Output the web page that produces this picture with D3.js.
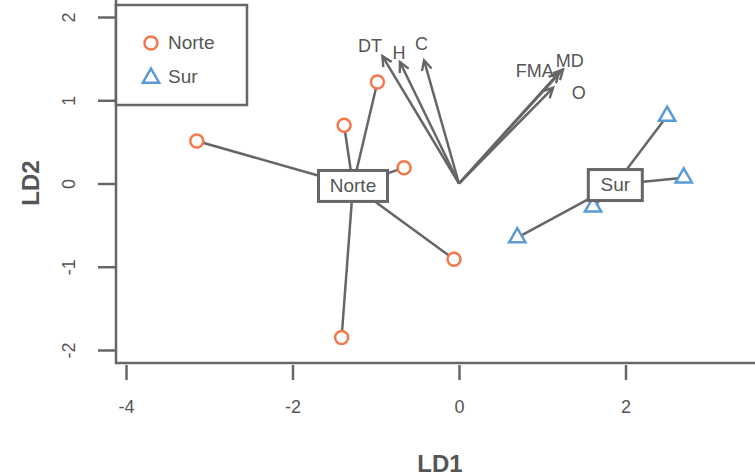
<!DOCTYPE html>
<html><head><meta charset="utf-8">
<script src="https://cdn.jsdelivr.net/npm/d3@7"></script>
<style>body{margin:0;background:#fff}svg{display:block}text{font-family:"Liberation Sans",Arial,sans-serif}</style>
</head><body><svg id="c" width="755" height="476"></svg>
<script>
// Data
const norteX = [-3.15, -0.98, -1.38, -0.66, -0.06, -1.41];
const norteY = [0.51, 1.22, 0.70, 0.19, -0.91, -1.85];
const surX = [2.50, 2.70, 1.61, 0.70];
const surY = [0.81, 0.07, -0.28, -0.65];
const groups = ["Norte", "Sur"];
const varNames = ["DT", "H", "C", "FMA", "MD", "O"];
const varX = [-0.92, -0.71, -0.42, 1.20, 1.25, 1.13];
const varY = [1.53, 1.46, 1.48, 1.33, 1.37, 1.15];
const varLabelX = [-1.07, -0.72, -0.45, 0.91, 1.33, 1.44];
const varLabelY = [1.66, 1.57, 1.68, 1.35, 1.48, 1.09];
const xTicks = [-4, -2, 0, 2];
const yTicks = [-2, -1, 0, 1, 2];

const grey = "#666666", txt = "#555555";
const orange = "#f4784d", blue = "#5b9bd5";

const svg = d3.select("#c");
const x = d3.scaleLinear().domain([-4, 0]).range([126, 459]);
const y = d3.scaleLinear().domain([-2, 2]).range([350, 17]);
const left = 116, bottom = 363;
const fmt = d => String(d);

// axes lines (plot frame cut by window)
svg.append("line").attr("x1", left).attr("x2", left).attr("y1", 0).attr("y2", bottom + 1)
  .attr("stroke", grey).attr("stroke-width", 2.5);
svg.append("line").attr("x1", left - 1).attr("x2", 755).attr("y1", bottom).attr("y2", bottom)
  .attr("stroke", grey).attr("stroke-width", 2.5);

// x axis ticks
const xa = svg.append("g").attr("transform", `translate(0,${bottom + 2})`)
  .call(d3.axisBottom(x).tickValues(xTicks).tickSize(15).tickPadding(20).tickFormat(fmt));
xa.attr("font-size", null).attr("font-family", null);
xa.select(".domain").remove();
xa.selectAll("line").attr("stroke", grey).attr("stroke-width", 2.5);
xa.selectAll("text").attr("fill", txt).attr("font-size", 18).style("font-size", "18px");

// y axis ticks
const ya = svg.append("g").attr("transform", `translate(${left - 1},0)`)
  .call(d3.axisLeft(y).tickValues(yTicks).tickSize(17).tickFormat(fmt));
ya.attr("font-size", null).attr("font-family", null);
ya.select(".domain").remove();
ya.selectAll("line").attr("stroke", grey).attr("stroke-width", 2.5);
ya.selectAll("text").attr("fill", txt).attr("font-size", 18).style("font-size", "18px")
  .attr("x", 0).attr("dy", null).attr("text-anchor", "middle")
  .attr("transform", "translate(-46,0) rotate(-90)").attr("y", 6);

// axis titles
svg.append("text").attr("x", 440).attr("y", 472).attr("text-anchor", "middle")
  .attr("fill", txt).style("font-size", "24px").style("font-weight", "bold").text("LD1");
svg.append("text").attr("transform", "translate(39,183) rotate(-90)").attr("text-anchor", "middle")
  .attr("fill", txt).style("font-size", "24px").style("font-weight", "bold").text("LD2");

// centroids
const norteC = [d3.mean(norteX), d3.mean(norteY)];
const surC = [d3.mean(surX), d3.mean(surY)];

const gSeg = svg.append("g");
norteX.forEach((v, i) => gSeg.append("line")
  .attr("x1", x(norteC[0])).attr("y1", y(norteC[1])).attr("x2", x(v)).attr("y2", y(norteY[i]))
  .attr("stroke", grey).attr("stroke-width", 2.5));
surX.forEach((v, i) => gSeg.append("line")
  .attr("x1", x(surC[0])).attr("y1", y(surC[1])).attr("x2", x(v)).attr("y2", y(surY[i]))
  .attr("stroke", grey).attr("stroke-width", 2.5));

// arrows
const defs = svg.append("defs");
defs.append("marker").attr("id", "ah").attr("viewBox", "0 0 12 12").attr("refX", 10).attr("refY", 6)
  .attr("markerWidth", 12).attr("markerHeight", 12).attr("markerUnits", "userSpaceOnUse").attr("orient", "auto")
  .append("path").attr("d", "M0,1 L10,6 L0,11").attr("fill", "none").attr("stroke", grey).attr("stroke-width", 2.4);
varX.forEach((v, i) => {
  svg.append("line").attr("x1", x(0)).attr("y1", y(0)).attr("x2", x(v)).attr("y2", y(varY[i]))
    .attr("stroke", grey).attr("stroke-width", 2.5).attr("marker-end", "url(#ah)");
});
varNames.forEach((n, i) => {
  svg.append("text").attr("x", x(varLabelX[i])).attr("y", y(varLabelY[i])).attr("dy", "0.35em")
    .attr("text-anchor", "middle").attr("fill", txt).style("font-size", "18px").text(n);
});

// points
const triPath = d3.symbol().type(d3.symbolTriangle).size(115);
norteX.forEach((v, i) => svg.append("circle").attr("cx", x(v)).attr("cy", y(norteY[i])).attr("r", 6.5)
  .attr("fill", "#fff").attr("stroke", orange).attr("stroke-width", 2.5));
surX.forEach((v, i) => svg.append("path").attr("d", triPath())
  .attr("transform", `translate(${x(v)},${y(surY[i])})`)
  .attr("fill", "#fff").attr("stroke", blue).attr("stroke-width", 2.5));

// centroid labels
function label(c, name, w) {
  const cx = x(c[0]), cy = y(c[1]);
  svg.append("rect").attr("x", cx - w / 2).attr("y", cy - 15).attr("width", w).attr("height", 31)
    .attr("fill", "#fff").attr("stroke", grey).attr("stroke-width", 3);
  svg.append("text").attr("x", cx).attr("y", cy).attr("dy", "0.36em").attr("text-anchor", "middle")
    .attr("fill", txt).style("font-size", "19px").text(name);
}
label(norteC, groups[0], 69);
label(surC, groups[1], 54);

// legend
svg.append("rect").attr("x", left).attr("y", 5).attr("width", 131).attr("height", 100)
  .attr("fill", "#fff").attr("stroke", grey).attr("stroke-width", 2.5);
svg.append("circle").attr("cx", 151).attr("cy", 43).attr("r", 6.5).attr("fill", "#fff")
  .attr("stroke", orange).attr("stroke-width", 2.5);
svg.append("path").attr("d", triPath()).attr("transform", "translate(151,78)")
  .attr("fill", "#fff").attr("stroke", blue).attr("stroke-width", 2.5);
groups.forEach((g, i) => svg.append("text").attr("x", 168).attr("y", 42 + i * 34).attr("dy", "0.36em")
  .attr("fill", txt).style("font-size", "19px").text(g));
</script></body></html>
